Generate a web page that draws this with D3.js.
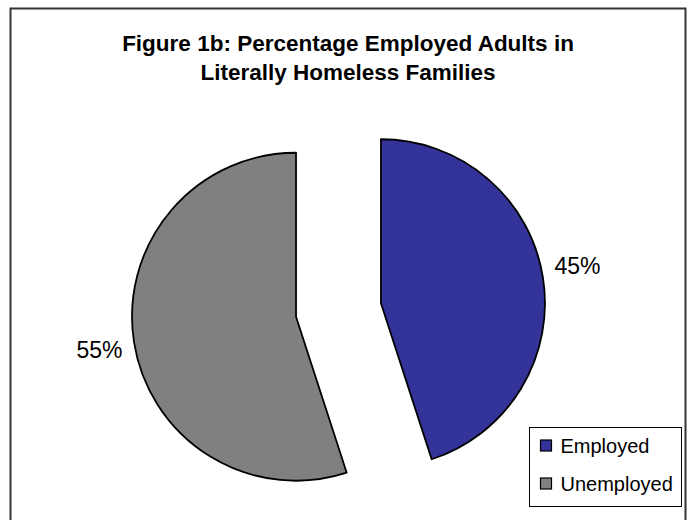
<!DOCTYPE html>
<html>
<head>
<meta charset="utf-8">
<script src="https://cdn.jsdelivr.net/npm/d3@7"></script>
<style>
  html, body { margin: 0; padding: 0; background: #fff; }
  svg { display: block; font-family: "Liberation Sans", Arial, sans-serif; }
</style>
</head>
<body>
<svg id="chart" width="689" height="520"></svg>
<script>
// Share of adults in literally homeless families, by employment status
const categories = ["Employed", "Unemployed"];
const values = [45, 55];
const labels = ["45%", "55%"];
const colors = ["#333399", "#808080"];
const titleLines = ["Figure 1b: Percentage Employed Adults in", "Literally Homeless Families"];

const svg = d3.select("#chart");

// outer frame
svg.append("rect")
  .attr("x", 10.5).attr("y", 8.5)
  .attr("width", 675).attr("height", 520)
  .attr("fill", "#fff").attr("stroke", "#333").attr("stroke-width", 2);

// title
const title = svg.append("text")
  .attr("text-anchor", "middle")
  .attr("font-weight", "bold")
  .attr("font-size", 22.5)
  .attr("fill", "#000");
titleLines.forEach((t, i) => {
  title.append("tspan").attr("x", 348).attr("y", 51 + i * 29).text(t);
});

// exploded pie
const cx = 338.5, cy = 310, r = 164, explode = 43;
const pie = d3.pie().sort(null).value(d => d)(values);
const arc = d3.arc().innerRadius(0).outerRadius(r);

const g = svg.append("g").attr("transform", `translate(${cx},${cy})`);
pie.forEach((d, i) => {
  const mid = (d.startAngle + d.endAngle) / 2;
  const dx = Math.sin(mid) * explode, dy = -Math.cos(mid) * explode;
  g.append("path")
    .attr("d", arc(d))
    .attr("transform", `translate(${dx},${dy})`)
    .attr("fill", colors[i])
    .attr("stroke", "#000").attr("stroke-width", 1.8)
    .attr("stroke-linejoin", "round");
  // percentage label outside the slice
  const lr = r + explode + 35;
  const lx = Math.sin(mid) * lr, ly = -Math.cos(mid) * lr;
  g.append("text")
    .attr("x", lx).attr("y", ly + (ly < 0 ? -4 : 4))
    .attr("text-anchor", "middle")
    .attr("dominant-baseline", "middle")
    .attr("font-size", 23)
    .attr("fill", "#000")
    .text(labels[i]);
});

// legend
const lg = svg.append("g").attr("transform", "translate(529.5,427.5)");
lg.append("rect").attr("width", 152).attr("height", 79)
  .attr("fill", "#fff").attr("stroke", "#000").attr("stroke-width", 1);
categories.forEach((c, i) => {
  const y = 18 + i * 38;
  lg.append("rect")
    .attr("x", 11).attr("y", y - 5.5).attr("width", 11).attr("height", 11)
    .attr("fill", colors[i]).attr("stroke", "#000").attr("stroke-width", 1.2);
  lg.append("text")
    .attr("x", 31).attr("y", y)
    .attr("dominant-baseline", "central")
    .attr("font-size", 20)
    .attr("fill", "#000")
    .text(c);
});
</script>
</body>
</html>
